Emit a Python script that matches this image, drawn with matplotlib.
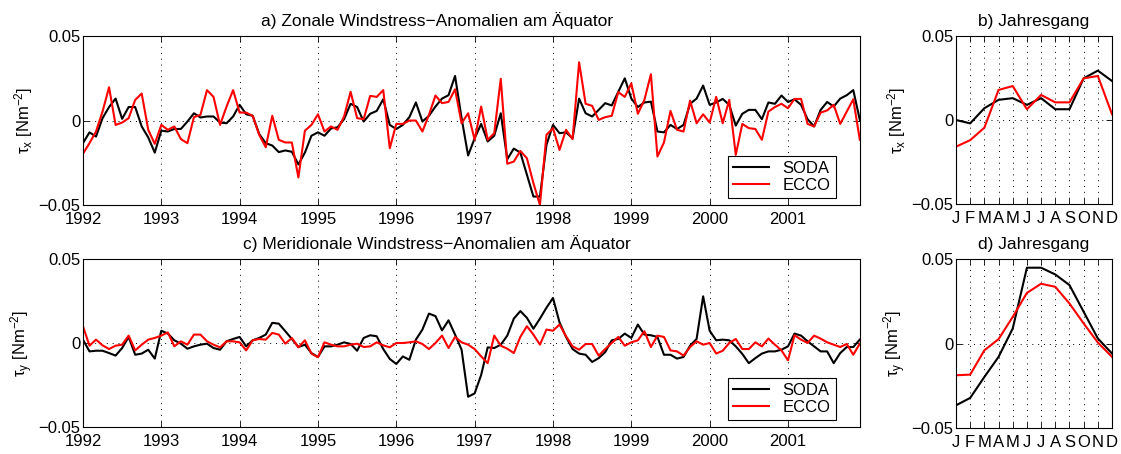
import numpy as np
import matplotlib
matplotlib.use("Agg")
import matplotlib.pyplot as plt

plt.rcParams['font.family'] = ['Liberation Sans', 'DejaVu Sans']
plt.rcParams['font.size'] = 12
plt.rcParams['mathtext.fontset'] = 'custom'
plt.rcParams['mathtext.rm'] = 'Liberation Sans'
plt.rcParams['mathtext.it'] = 'Liberation Sans'

# monthly anomalies 1992-2001, zonal wind stress
taux_soda = [-0.0134, -0.007, -0.0095, 0.0014, 0.008, 0.013, 0.001, 0.008, 0.008, -0.0035, -0.010, -0.019,
             -0.006, -0.0065, -0.005, -0.005, -0.0006, 0.0043, 0.0018, 0.0024, 0.0024, -0.0012, -0.0016, 0.0024,
             0.0093, 0.0037, 0.0028, -0.008, -0.0134, -0.0148, -0.0187, -0.0177, -0.0185, -0.026, -0.019, -0.009,
             -0.007, -0.009, -0.0047, -0.004, 0.0008, 0.0099, 0.008, -0.0006, 0.004, 0.0057, 0.0126, -0.0026,
             -0.005, -0.0026, 0.002, 0.0107, -0.0006, 0.0028, 0.0083, 0.013, 0.015, 0.0264, 0.0014, -0.0207,
             -0.0105, -0.002, -0.0124, -0.009, 0.0043, -0.0229, -0.0166, -0.019, -0.032, -0.045, -0.045, -0.0144,
             -0.0026, -0.0075, -0.007, -0.0105, 0.013, 0.0043, 0.0024, 0.0063, 0.0103, 0.0089, 0.017, 0.025,
             0.013, 0.008, 0.0107, 0.0112, -0.0065, -0.007, -0.0026, -0.005, -0.0026, 0.0099, 0.013, 0.0207,
             0.0093, 0.0107, 0.0128, 0.0093, -0.003, 0.004, 0.0063, 0.0063, 0.0008, 0.0107, 0.0099, 0.0148,
             0.011, 0.0126, 0.0093, 0.0008, -0.0035, 0.0063, 0.011, 0.0083, 0.013, 0.015, 0.018, 0.0004]
taux_ecco = [-0.0197, -0.0134, -0.0065, 0.0053, 0.0197, -0.0026, -0.0012, 0.0014, 0.0122, 0.016, -0.0055, -0.0138,
             -0.0026, -0.0055, -0.0035, -0.011, -0.0134, 0.002, 0.0034, 0.018, 0.014, -0.0026, 0.0083, 0.018,
             0.0047, 0.0047, 0.0028, -0.0085, -0.0158, 0.0028, -0.0114, -0.013, -0.013, -0.0337, -0.006, -0.0026,
             0.0037, -0.0065, -0.0035, -0.0055, 0.0024, 0.017, 0.0014, 0.0008, 0.0146, 0.014, 0.018, -0.0164,
             -0.002, -0.002, 0.0, 0.0, -0.0065, 0.0034, 0.0148, 0.0103, 0.011, 0.0185, -0.0016, 0.0043,
             -0.0114, 0.0083, -0.0114, -0.0075, 0.0247, -0.0256, -0.0243, -0.018, -0.0223, -0.037, -0.05, -0.0085,
             -0.0045, -0.0174, -0.0055, -0.011, 0.0345, 0.0099, 0.0087, 0.0004, 0.002, 0.0028, 0.0168, 0.014,
             0.022, 0.004, 0.0122, 0.0274, -0.0213, -0.013, 0.0057, -0.0055, -0.0065, 0.0118, -0.0016, 0.0037,
             -0.0012, 0.014, -0.0016, 0.0122, -0.0203, -0.002, -0.0045, -0.005, -0.0114, 0.0053, 0.008, 0.0099,
             0.0073, 0.0128, 0.0128, -0.002, -0.0035, 0.0047, 0.006, 0.0093, -0.002, 0.0053, 0.0126, -0.0114]

# meridional wind stress
tauy_soda = [0.002, -0.005, -0.0046, -0.0046, -0.006, -0.0075, -0.003, 0.0036, -0.007, -0.0063, -0.004, -0.0093,
             0.0073, 0.0056, 0.0016, -0.0004, -0.0034, -0.002, -0.001, -0.0004, -0.003, -0.004, 0.001, 0.0024,
             0.0036, -0.002, 0.0016, 0.003, 0.005, 0.012, 0.0115, 0.007, 0.0024, -0.0024, -0.001, -0.006,
             -0.0083, -0.002, -0.002, -0.001, 0.0004, -0.0006, -0.0046, 0.003, 0.0046, 0.004, -0.0036, -0.0095,
             -0.0125, -0.008, -0.010, 0.002, 0.008, 0.0175, 0.016, 0.0075, 0.0135, 0.005, -0.004, -0.032,
             -0.030, -0.019, -0.0026, -0.003, -0.001, 0.0044, 0.0145, 0.019, 0.015, 0.0085, 0.0145, 0.021,
             0.0268, 0.0123, 0.0036, -0.0036, -0.0063, -0.007, -0.0113, -0.009, -0.0054, 0.0016, 0.0024, 0.0056,
             0.003, 0.011, 0.005, 0.0046, 0.0036, -0.007, -0.007, -0.0093, -0.0083, -0.0016, 0.0024, 0.0278,
             0.0073, 0.0016, 0.002, 0.0016, -0.002, -0.0065, -0.012, -0.009, -0.0063, -0.005, -0.005, -0.004,
             -0.002, 0.0056, 0.0044, 0.001, -0.002, -0.005, -0.005, -0.012, -0.006, -0.0024, -0.0024, 0.002]
tauy_ecco = [0.010, -0.0016, 0.002, -0.0014, -0.0036, -0.0016, -0.001, 0.0044, -0.0044, -0.001, 0.002, 0.003,
             0.0044, 0.0063, -0.002, 0.001, -0.001, 0.005, 0.005, 0.001, -0.001, -0.0026, 0.001, 0.001,
             0.0004, -0.0044, 0.0016, 0.0024, 0.002, 0.006, 0.005, -0.0004, 0.003, -0.0026, 0.0016, -0.0063,
             -0.0085, 0.0004, -0.001, -0.002, -0.002, -0.001, -0.0004, -0.0024, -0.002, 0.0004, -0.0014, -0.0026,
             0.0, 0.0, 0.0004, 0.001, -0.0006, -0.0036, 0.0, 0.0044, -0.003, 0.0036, 0.0004, -0.001,
             -0.0036, -0.008, -0.012, 0.0044, -0.0016, -0.0034, -0.006, 0.0036, 0.010, 0.005, -0.001, 0.008,
             0.0073, 0.011, 0.004, -0.002, -0.004, -0.0006, -0.0006, -0.0075, -0.0036, 0.0, 0.0036, -0.0016,
             0.0004, 0.0016, 0.007, -0.0024, 0.0044, 0.0036, -0.0044, -0.005, -0.0075, -0.0024, 0.001, -0.001,
             0.0, -0.0063, -0.0046, 0.0, 0.0024, -0.0036, -0.0036, 0.0004, -0.002, 0.0026, -0.001, -0.0044,
             -0.0103, 0.0046, 0.002, 0.0, 0.0044, 0.0026, 0.0004, -0.001, -0.0024, -0.0006, -0.007, -0.0004]

# seasonal cycle
months = ['J', 'F', 'M', 'A', 'M', 'J', 'J', 'A', 'S', 'O', 'N', 'D']
seas_x_soda = [0.0, -0.002, 0.007, 0.012, 0.013, 0.009, 0.013, 0.0064, 0.0064, 0.0248, 0.0294, 0.0232]
seas_x_ecco = [-0.0159, -0.012, -0.0046, 0.0179, 0.0202, 0.0064, 0.0149, 0.0105, 0.0105, 0.0248, 0.0262, 0.0034]
seas_y_soda = [-0.0366, -0.0322, -0.0198, -0.0079, 0.0089, 0.0449, 0.0449, 0.0409, 0.0346, 0.0188, 0.003, -0.0059]
seas_y_ecco = [-0.0188, -0.0184, -0.004, 0.0026, 0.0158, 0.030, 0.0354, 0.0336, 0.0237, 0.0119, 0.0006, -0.0079]

years = list(range(1992, 2002))
t = 1992 + np.arange(len(taux_soda)) / 12.0
m = np.arange(1, 13)

dots = (0, (1, 5))


def style(ax):
    ax.set_ylim(-0.05, 0.05)
    ax.set_yticks([-0.05, 0, 0.05])
    ax.set_yticklabels(['\u22120.05', '0', '0.05'])
    ax.tick_params(direction='in', top=True, right=True, length=4, width=0.6)
    ax.tick_params(axis='y', pad=2)
    ax.tick_params(axis='x', pad=5)
    ax.axhline(0, color='k', lw=0.7, ls=dots, zorder=0)
    for s in ax.spines.values():
        s.set_linewidth(0.8)


fig = plt.figure(figsize=(11.21, 4.54), dpi=100)

ax_a = fig.add_axes([0.074, 0.5485, 0.693, 0.372])
ax_c = fig.add_axes([0.074, 0.0595, 0.693, 0.370])
ax_b = fig.add_axes([0.8528, 0.5507, 0.1392, 0.370])
ax_d = fig.add_axes([0.8528, 0.0573, 0.1392, 0.372])

for ax, soda, ecco, title, lab in [
        (ax_a, taux_soda, taux_ecco, 'a) Zonale Windstress\u2212Anomalien am \u00c4quator', r'$\tau_x$ [Nm$^{-2}$]'),
        (ax_c, tauy_soda, tauy_ecco, 'c) Meridionale Windstress\u2212Anomalien am \u00c4quator', r'$\tau_y$ [Nm$^{-2}$]')]:
    ax.plot(t, soda, color='k', lw=1.5, label='SODA')
    ax.plot(t, ecco, color='#ff0000', lw=1.5, label='ECCO')
    style(ax)
    ax.set_xlim(t[0], t[-1])
    ax.set_xticks(years)
    ax.set_xticklabels([str(y) for y in years])
    for y in years[1:]:
        ax.axvline(y, color='k', lw=0.7, ls=dots, zorder=0)
    ax.set_title(title, fontsize=12.5, pad=7.5, x=0.456)
    ax.set_ylabel(lab, labelpad=2)
    leg = ax.legend(loc='lower right', bbox_to_anchor=(0.969, 0.04), borderaxespad=0,
                    fancybox=False, edgecolor='k', fontsize=12, handlelength=2.2,
                    framealpha=1, borderpad=0.3, labelspacing=0.15)
    leg.get_frame().set_linewidth(0.8)

for ax, soda, ecco, title, lab in [
        (ax_b, seas_x_soda, seas_x_ecco, 'b) Jahresgang', r'$\tau_x$ [Nm$^{-2}$]'),
        (ax_d, seas_y_soda, seas_y_ecco, 'd) Jahresgang', r'$\tau_y$ [Nm$^{-2}$]')]:
    ax.plot(m, soda, color='k', lw=1.5)
    ax.plot(m, ecco, color='#ff0000', lw=1.5)
    style(ax)
    ax.set_xlim(1, 12)
    ax.set_xticks(m)
    ax.set_xticklabels(months)
    for k in m[1:-1]:
        ax.axvline(k, color='k', lw=0.7, ls=dots, zorder=0)
    ax.set_title(title, fontsize=12.5, pad=7.5)
    ax.set_ylabel(lab, labelpad=2)

fig.savefig('out.png', dpi=100)
